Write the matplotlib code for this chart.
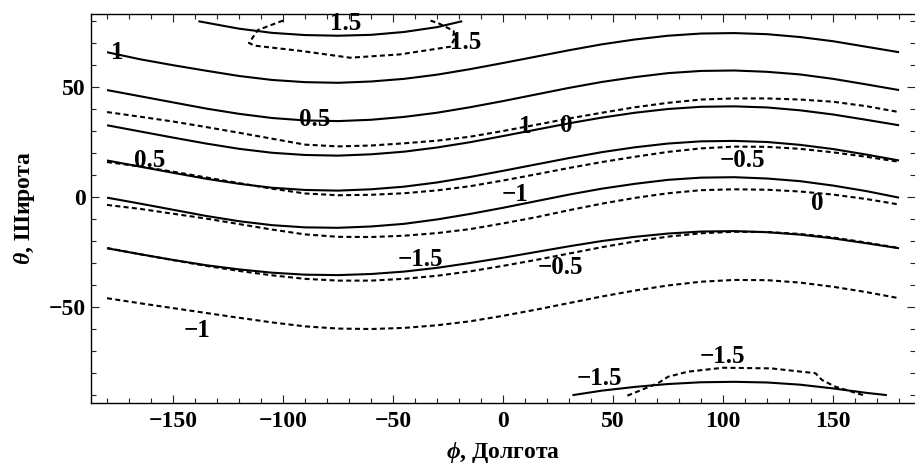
import matplotlib
matplotlib.use("Agg")
import matplotlib.pyplot as plt
from matplotlib.ticker import MultipleLocator

plt.rcParams['font.family'] = ['Liberation Serif', 'DejaVu Serif']
plt.rcParams['font.weight'] = 'bold'
plt.rcParams['mathtext.fontset'] = 'custom'
plt.rcParams['mathtext.it'] = 'Liberation Serif:italic:bold'
plt.rcParams['mathtext.rm'] = 'Liberation Serif:bold'
plt.rcParams['axes.unicode_minus'] = True

# longitude samples shared by the full-width isolines
phi_grid = [-180, -165, -150, -135, -120, -105, -90, -75, -60, -45, -30, -15, 0,
            15, 30, 45, 60, 75, 90, 105, 120, 135, 150, 165, 180]

# solid isolines (latitude at each phi_grid longitude)
solid_levels = [1.0, 0.5, 0.0, -0.5, -1.0, -1.5]
th_solid_p10 = [65.8, 62.6, 59.9, 57.4, 55.0, 53.2, 52.2, 51.9, 52.5, 53.7, 55.6, 58.1, 60.9,
                63.8, 66.7, 69.4, 71.6, 73.3, 74.3, 74.5, 74.0, 72.7, 70.8, 68.3, 65.8]
th_solid_p05 = [48.6, 45.8, 43.0, 40.2, 37.8, 35.9, 34.8, 34.5, 35.1, 36.4, 38.3, 40.8, 43.6,
                46.6, 49.6, 52.3, 54.5, 56.3, 57.3, 57.5, 56.9, 55.7, 53.7, 51.2, 48.6]
th_solid_0 = [32.6, 29.8, 27.0, 24.3, 21.9, 20.1, 19.1, 18.8, 19.4, 20.6, 22.5, 24.9, 27.7,
              30.6, 33.5, 36.1, 38.3, 40.0, 41.0, 41.2, 40.7, 39.4, 37.5, 35.1, 32.6]
th_solid_m05 = [16.6, 13.8, 11.0, 8.3, 6.0, 4.2, 3.2, 2.9, 3.5, 4.7, 6.6, 9.1, 11.9,
                14.8, 17.7, 20.4, 22.6, 24.3, 25.3, 25.5, 25.0, 23.7, 21.8, 19.3, 16.6]
th_solid_m10 = [-0.3, -3.0, -5.8, -8.6, -11.0, -12.8, -13.8, -14.0, -13.4, -12.2, -10.2, -7.7, -4.9,
                -1.9, 1.1, 3.8, 6.0, 7.8, 8.8, 9.0, 8.4, 7.2, 5.2, 2.7, -0.3]
th_solid_m15 = [-23.3, -26.0, -28.6, -31.0, -32.9, -34.4, -35.3, -35.5, -35.0, -33.9, -32.2, -30.0, -27.6,
                -25.0, -22.4, -20.0, -18.1, -16.6, -15.7, -15.5, -16.0, -17.1, -18.8, -21.0, -23.3]

# solid closed isolines cut by the latitude limits
arc_top_level = 1.5
arc_top_phi = [-138, -120, -105, -90, -75, -60, -45, -30, -19]
arc_top_theta = [79.8, 76.5, 74.6, 73.6, 73.3, 73.7, 75.0, 77.2, 79.8]
arc_bot_level = -1.5
arc_bot_phi = [32, 45, 60, 75, 90, 105, 120, 135, 150, 165, 174]
arc_bot_theta = [-90.0, -88.0, -86.3, -85.0, -84.2, -84.0, -84.3, -85.3, -87.0, -89.0, -90.0]

# dashed isolines
dashed_levels = [1.0, 0.5, 0.0, -0.5, -1.0]
th_dash_p10 = [38.6, 36.5, 34.3, 31.8, 29.2, 26.5, 23.8, 23.0, 23.4, 24.4, 25.6, 27.4, 30.0,
               32.8, 35.7, 38.3, 40.8, 42.8, 44.3, 44.8, 44.8, 44.3, 43.3, 41.3, 38.6]
th_dash_p05 = [15.9, 13.9, 11.5, 8.9, 6.3, 3.8, 1.6, 0.8, 1.0, 1.7, 3.0, 4.9, 7.5,
               10.3, 13.2, 15.9, 18.3, 20.5, 22.1, 22.9, 22.8, 21.9, 20.3, 18.3, 16.0]
th_dash_0 = [-3.6, -5.4, -7.6, -9.8, -12.3, -14.8, -17.0, -18.1, -18.2, -17.6, -16.4, -14.6, -12.0,
             -9.2, -6.0, -3.0, -0.4, 1.7, 3.1, 3.5, 3.3, 2.5, 1.1, -0.9, -3.4]
th_dash_m05 = [-23.2, -26.0, -28.7, -31.3, -33.6, -35.6, -37.2, -38.0, -38.0, -37.2, -35.8, -33.8, -31.3,
               -28.6, -25.7, -22.8, -20.2, -18.0, -16.5, -15.8, -15.9, -16.8, -18.4, -20.7, -23.2]
th_dash_m10 = [-46.0, -48.3, -50.5, -52.7, -54.9, -57.0, -58.8, -59.8, -60.0, -59.5, -58.3, -56.5, -54.0,
               -51.2, -48.2, -45.2, -42.5, -40.2, -38.5, -37.7, -37.8, -38.9, -40.8, -43.2, -46.0]

dash_top_level = 1.5
dash_top_phi = [-100, -111.4, -115.5, -113, -92, -69.5, -47, -24, -22, -22.5, -29, -33]
dash_top_theta = [80.2, 75.9, 70.0, 68.8, 66.4, 63.3, 64.8, 68.3, 72.0, 75.5, 78.8, 80.2]
dash_bot_level = -1.5
dash_bot_phi = [56.5, 70.5, 75, 84, 100, 122, 142, 145, 151, 164.5]
dash_bot_theta = [-90.3, -84.6, -81.7, -79.4, -77.6, -77.9, -80.1, -83.2, -86.2, -90.3]

# isoline labels: level value and where it sits
label_levels = [1.5, 1.5, 1.0, 0.5, 0.5, 1.0, 0.0, -0.5, -1.0, 0.0, -1.5, -0.5, -1.0, -1.5, -1.5]
label_phi = [-71.5, -17.0, -175.5, -85.5, -160.5, 10.0, 28.6, 109.0, 5.5, 143.0, -37.7, 26.0, -139.0, 44.0, 99.5]
label_theta = [79.0, 70.0, 65.5, 35.0, 16.8, 32.0, 32.7, 16.8, 1.0, -2.8, -28.6, -32.0, -60.5, -82.3, -72.3]


def level_text(v):
    s = f"{abs(v):g}"
    return ("\u2212" + s) if v < 0 else s


fig = plt.figure(figsize=(9.15, 4.71), dpi=100)
ax = fig.add_axes([91.2 / 915, (471 - 402.5) / 471, 823.7 / 915, 389.0 / 471])

lw = 1.5
dash_style = (0, (2.4, 1.6))

for th in [th_solid_p10, th_solid_p05, th_solid_0, th_solid_m05, th_solid_m10, th_solid_m15]:
    ax.plot(phi_grid, th, color='black', lw=lw, solid_capstyle='butt')
ax.plot(arc_top_phi, arc_top_theta, color='black', lw=lw)
ax.plot(arc_bot_phi, arc_bot_theta, color='black', lw=lw)

for th in [th_dash_p10, th_dash_p05, th_dash_0, th_dash_m05, th_dash_m10]:
    ax.plot(phi_grid, th, color='black', lw=lw, linestyle=dash_style)
ax.plot(dash_top_phi, dash_top_theta, color='black', lw=lw, linestyle=dash_style)
ax.plot(dash_bot_phi, dash_bot_theta, color='black', lw=lw, linestyle=dash_style)

for v, x, y in zip(label_levels, label_phi, label_theta):
    ax.text(x, y, level_text(v), fontsize=18, fontweight='bold',
            ha='center', va='center', color='black')

ax.set_xlim(-187.2, 187.2)
ax.set_ylim(-93.4, 83.4)
ax.xaxis.set_major_locator(MultipleLocator(50))
ax.xaxis.set_minor_locator(MultipleLocator(10))
ax.yaxis.set_major_locator(MultipleLocator(50))
ax.yaxis.set_minor_locator(MultipleLocator(10))
ax.tick_params(which='both', direction='in', top=True, right=True, width=0.8, color='#222222')
ax.tick_params(which='major', length=6, labelsize=17, pad=6)
ax.tick_params(which='minor', length=3.5)
ax.tick_params(axis='y', which='major', pad=4)
for lab in ax.get_xticklabels() + ax.get_yticklabels():
    lab.set_fontweight('bold')
ax.spines['right'].set_visible(False)
for s in ['left', 'bottom', 'top']:
    ax.spines[s].set_linewidth(1.0)

ax.set_xlabel(r"$\phi$, Долгота", fontsize=17, fontweight='bold', labelpad=6)
ax.set_ylabel(r"$\theta$, Широта", fontsize=17, fontweight='bold', labelpad=8)

fig.savefig("out.png", dpi=100)
